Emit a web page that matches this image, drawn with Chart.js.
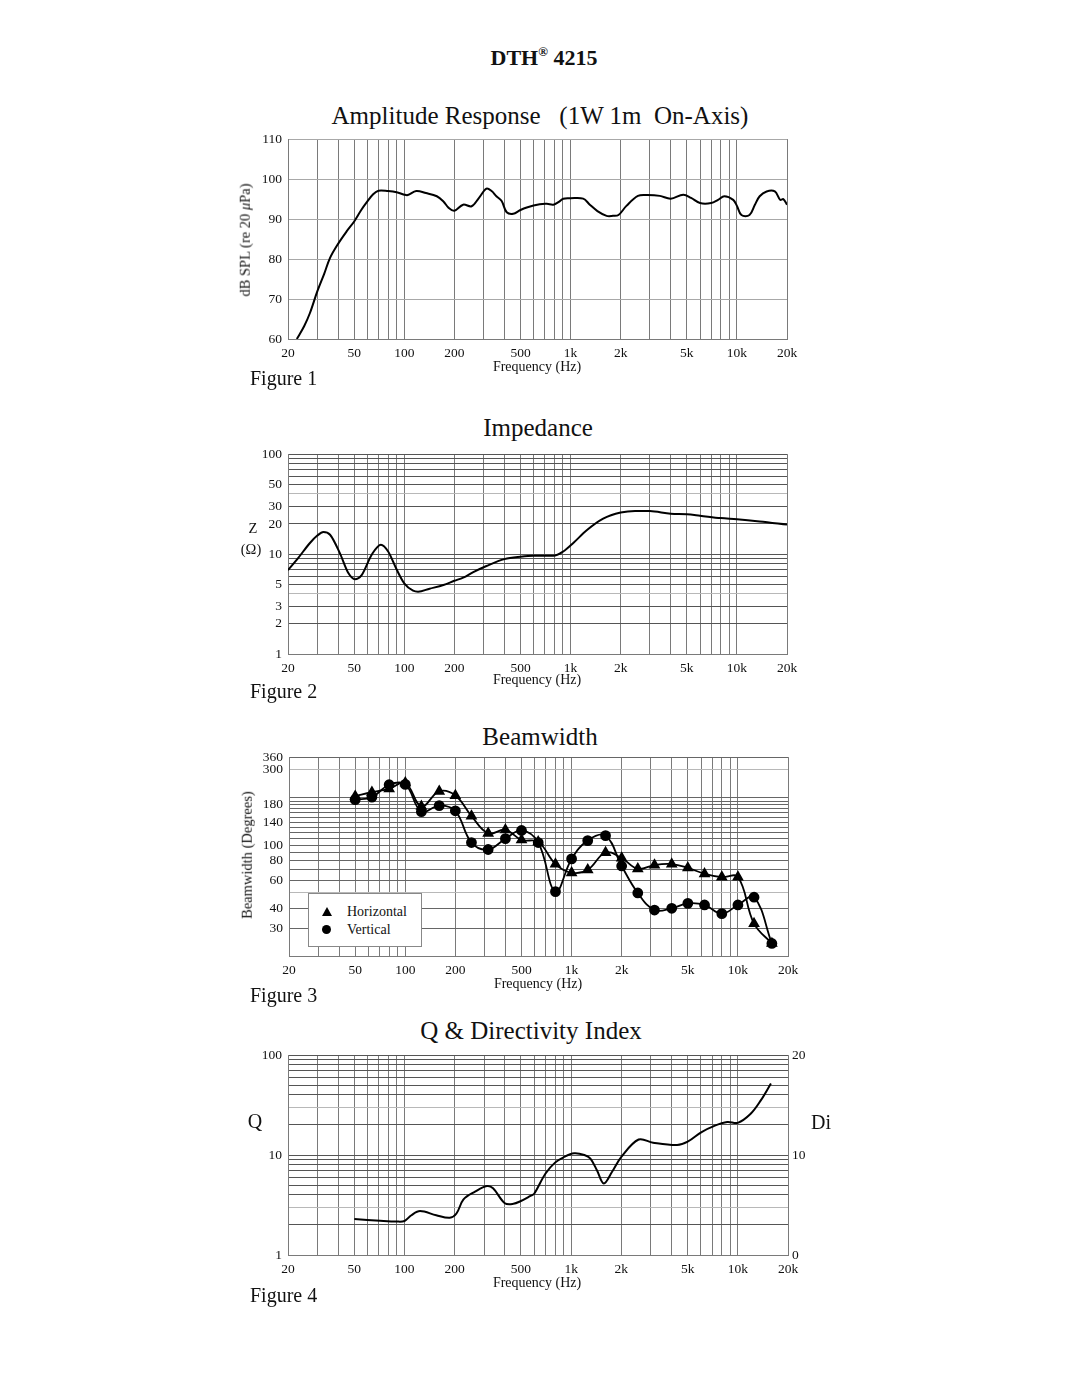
<!DOCTYPE html>
<html>
<head>
<meta charset="utf-8">
<script src="https://cdn.jsdelivr.net/npm/chart.js@4.4.1/dist/chart.umd.min.js"></script>
<style>
  body { margin: 0; background: #fff; font-family: "Liberation Serif", "Times New Roman", serif; color: #111; }
  #page { position: relative; width: 1080px; height: 1397px; overflow: hidden; }
  canvas { position: absolute; left: 0; }
  .t { position: absolute; white-space: pre; line-height: 1; }
  .c { transform: translate(-50%, -50%); }
  .l { transform: translate(0, -50%); }
  .r90 { transform: translate(-50%, -50%) rotate(-90deg); }
  .title { font-size: 25px; }
  .fig { font-size: 20px; }
  .fq { font-size: 14px; }
  .ax { font-size: 14.5px; }
  #legend { position: absolute; left: 308px; top: 893px; width: 112px; height: 52px; border: 1px solid #888; background: #fff; }
  .tri { position: absolute; width: 0; height: 0; border-left: 5px solid transparent; border-right: 5px solid transparent; border-bottom: 9px solid #000; }
  .dot { position: absolute; width: 9px; height: 9px; border-radius: 50%; background: #000; }
</style>
</head>
<body>
<div id="page">
  <div class="t c" style="left:544px; top:57px; font-size:22px; font-weight:bold;">DTH<sup style="font-size:13px;">®</sup> 4215</div>

  <div class="t c title" style="left:540px; top:115px;">Amplitude Response   (1W 1m  On-Axis)</div>
  <canvas id="c1" width="1080" height="240" style="top:125px;"></canvas>
  <div class="t r90 ax" style="left:245px; top:240px;">dB SPL (re 20 <i>μ</i>Pa)</div>
  <div class="t c fq" style="left:537px; top:367px;">Frequency (Hz)</div>
  <div class="t l fig" style="left:250px; top:378px;">Figure 1</div>

  <div class="t c title" style="left:538px; top:427px;">Impedance</div>
  <canvas id="c2" width="1080" height="240" style="top:440px;"></canvas>
  <div class="t c ax" style="left:253px; top:528px;">Z</div>
  <div class="t c ax" style="left:251px; top:549px;">(Ω)</div>
  <div class="t c fq" style="left:537px; top:680px;">Frequency (Hz)</div>
  <div class="t l fig" style="left:250px; top:691px;">Figure 2</div>

  <div class="t c title" style="left:540px; top:736px;">Beamwidth</div>
  <canvas id="c3" width="1080" height="240" style="top:743px;"></canvas>
  <div class="t r90 ax" style="left:247px; top:855px;">Beamwidth (Degrees)</div>
  <div id="legend"></div>
  <div class="tri" style="left:322px; top:907px;"></div>
  <div class="t l fq" style="left:347px; top:912px;">Horizontal</div>
  <div class="dot" style="left:322px; top:925px;"></div>
  <div class="t l fq" style="left:347px; top:930px;">Vertical</div>
  <div class="t c fq" style="left:538px; top:984px;">Frequency (Hz)</div>
  <div class="t l fig" style="left:250px; top:995px;">Figure 3</div>

  <div class="t c title" style="left:531px; top:1030px;">Q &amp; Directivity Index</div>
  <canvas id="c4" width="1080" height="240" style="top:1041px;"></canvas>
  <div class="t c" style="left:255px; top:1121px; font-size:20px;">Q</div>
  <div class="t c" style="left:821px; top:1122px; font-size:20px;">Di</div>
  <div class="t c fq" style="left:537px; top:1283px;">Frequency (Hz)</div>
  <div class="t l fig" style="left:250px; top:1295px;">Figure 4</div>
</div>

<script>
// frequency axis
const xGrid = [20, 30, 40, 50, 60, 70, 80, 90, 100, 200, 300, 400, 500, 600, 700, 800, 900,
  1000, 2000, 3000, 4000, 5000, 6000, 7000, 8000, 9000, 10000, 20000];
const xLabels = { 20: '20', 50: '50', 100: '100', 200: '200', 500: '500', 1000: '1k',
  2000: '2k', 5000: '5k', 10000: '10k', 20000: '20k' };

// Figure 1 - amplitude response
const splFreq = [22.6, 25, 27.1, 30, 33, 35.8, 40, 45, 50, 55, 60, 65, 70, 80, 90, 100, 105, 118, 135,
  157, 172, 185, 200, 226, 254, 280, 312, 335, 358, 385, 413, 452, 496, 545, 652, 720, 788, 850, 903,
  1000, 1190, 1305, 1450, 1646, 1800, 1940, 2166, 2540, 2900, 3440, 4000, 4754, 5300, 6000, 7000,
  7700, 8400, 9500, 10000, 10640, 11900, 12800, 13700, 15080, 16900, 18200, 19000, 20000];
const splDb = [60, 63.2, 66.5, 71.9, 76.3, 80.3, 83.8, 86.9, 89.4, 92.2, 94.4, 96.2, 97.1, 97.0, 96.7,
  96.1, 96.0, 97.0, 96.5, 95.7, 94.4, 92.8, 92.1, 93.6, 93.2, 95.2, 97.6, 97.0, 95.7, 94.5, 91.7, 91.3,
  92.2, 92.9, 93.7, 93.8, 93.6, 94.3, 95.1, 95.2, 95.1, 93.6, 92.0, 90.8, 90.8, 91.0, 93.3, 95.8, 96.0,
  95.8, 95.1, 96.1, 95.3, 94.0, 94.0, 94.8, 95.7, 94.8, 93.3, 91.0, 91.0, 93.5, 95.7, 96.9, 96.9, 94.8,
  95.0, 93.6];
const splTicks = [60, 70, 80, 90, 100, 110];

// Figure 2 - impedance
const impFreq = [20, 23, 27.1, 30, 32.6, 35.8, 41, 46, 50.5, 55.6, 63.6, 72.4, 80, 90, 100, 113, 121,
  142, 172, 200, 226, 260, 312, 400, 500, 600, 788, 903, 1042, 1250, 1570, 2000, 2440, 3000, 4000,
  5000, 6000, 8000, 10000, 13700, 20000];
const impOhm = [6.9, 9.1, 12.9, 15.3, 16.6, 15.6, 10.2, 6.5, 5.6, 6.2, 9.8, 12.4, 10.6, 7.0, 5.1, 4.3,
  4.2, 4.5, 4.9, 5.4, 5.8, 6.6, 7.6, 8.9, 9.4, 9.6, 9.6, 10.6, 13.0, 17.3, 22.6, 26.0, 27.0, 26.9, 25.3,
  25.0, 24.2, 22.9, 22.3, 21.2, 19.7];
const impGrid = [1, 2, 3, 4, 5, 6, 7, 8, 9, 10, 20, 30, 40, 50, 60, 70, 80, 90, 100];
const impLabels = [1, 2, 3, 5, 10, 20, 30, 50, 100];

// Figure 3 - beamwidth
const bwFreq = [50, 63, 80, 100, 125, 160, 200, 250, 315, 400, 500, 630, 800, 1000, 1250, 1600, 2000,
  2500, 3150, 4000, 5000, 6300, 8000, 10000, 12500, 16000];
const bwHoriz = [204, 216, 227, 248, 176, 219, 206, 153, 119, 125, 108, 105, 76, 67, 70, 90, 83, 71,
  75, 76, 72, 66, 63, 63, 32, 24];
const bwVert = [194, 201, 241, 242, 163, 178, 165, 104, 94, 110, 124, 104, 51, 82, 107, 115, 74, 50,
  39, 40, 43, 42, 37, 42, 47, 24];
const bwGrid = [20, 30, 40, 50, 60, 70, 80, 90, 100, 110, 120, 130, 140, 150, 160, 170, 180, 190, 200, 300, 360];
const bwLabels = [30, 40, 60, 80, 100, 140, 180, 300, 360];

// Figure 4 - Q
const qFreq = [50, 71.4, 90, 100, 110, 124, 155, 187, 205, 226, 265, 312, 340, 400, 450, 496, 570, 600,
  700, 800, 900, 1042, 1200, 1305, 1430, 1570, 1760, 2000, 2540, 3100, 4320, 5000, 6060, 7180, 8640,
  10000, 11900, 13700, 15800];
const qVal = [2.29, 2.2, 2.16, 2.19, 2.5, 2.75, 2.5, 2.36, 2.6, 3.6, 4.3, 4.9, 4.65, 3.3, 3.25, 3.45,
  3.9, 4.1, 6.5, 8.4, 9.5, 10.4, 10.0, 9.2, 7.0, 5.2, 6.8, 9.6, 14.3, 13.3, 12.6, 13.6, 17.0, 19.5,
  21.4, 21.0, 25.7, 35.0, 52.0];
const qLabels = [1, 10, 100];
const diTicks = [0, 10, 20];

const serif = '"Liberation Serif", "Times New Roman", serif';
const tickFont = { family: serif, size: 13.5 };

function pts(xs, ys) {
  return xs.map((x, i) => ({ x: x, y: ys[i] }));
}

function freqAxis() {
  return {
    type: 'logarithmic',
    min: 20,
    max: 20000,
    afterBuildTicks: s => { s.ticks = xGrid.map(v => ({ value: v })); },
    afterFit: s => { s.height = 24; },
    ticks: {
      autoSkip: false, maxRotation: 0, padding: 6, color: '#111', font: tickFont,
      callback: v => xLabels[v] || ''
    },
    grid: { color: '#7a7a7a', drawTicks: false },
    border: { color: '#7a7a7a' }
  };
}

function logY(min, max, grid, labels, colorFn) {
  return {
    type: 'logarithmic',
    min: min,
    max: max,
    afterBuildTicks: s => { s.ticks = grid.map(v => ({ value: v })); },
    afterFit: s => { s.width = 40; },
    ticks: {
      autoSkip: false, padding: 6, color: '#111', font: tickFont,
      callback: v => labels.includes(v) ? String(v) : ''
    },
    grid: { color: colorFn, drawTicks: false },
    border: { color: '#7a7a7a' }
  };
}

function baseOptions(scales, pad) {
  return {
    responsive: false,
    animation: false,
    layout: { padding: pad },
    plugins: { legend: { display: false }, tooltip: { enabled: false } },
    scales: scales
  };
}

function curve(data, smooth) {
  const ds = { data: data, borderColor: '#000', borderWidth: 2, pointRadius: 0, fill: false };
  if (smooth) ds.tension = smooth;
  else ds.cubicInterpolationMode = 'monotone';
  return ds;
}

// Figure 1
new Chart(document.getElementById('c1'), {
  type: 'line',
  data: { datasets: [curve(pts(splFreq, splDb), 0.35)] },
  options: baseOptions({
    x: freqAxis(),
    y: {
      type: 'linear', min: 60, max: 110,
      afterBuildTicks: s => { s.ticks = splTicks.map(v => ({ value: v })); },
      afterFit: s => { s.width = 40; },
      ticks: { padding: 6, color: '#111', font: tickFont },
      grid: { color: '#a8a8a8', drawTicks: false },
      border: { color: '#7a7a7a' }
    }
  }, { left: 248, right: 293, top: 14, bottom: 2 })
});

// Figure 2
new Chart(document.getElementById('c2'), {
  type: 'line',
  data: { datasets: [curve(pts(impFreq, impOhm))] },
  options: baseOptions({
    x: freqAxis(),
    y: logY(1, 100, impGrid, impLabels, c => (c.tick && (c.tick.value === 4 || c.tick.value === 40)) ? '#b8b8b8' : '#555')
  }, { left: 248, right: 293, top: 14, bottom: 2 })
});

// Figure 3
new Chart(document.getElementById('c3'), {
  type: 'line',
  data: {
    datasets: [
      {
        label: 'Horizontal', data: pts(bwFreq, bwHoriz), borderColor: '#000', borderWidth: 1.8,
        pointStyle: 'triangle', pointRadius: 5, pointBackgroundColor: '#000', pointBorderColor: '#000',
        tension: 0.4, fill: false
      },
      {
        label: 'Vertical', data: pts(bwFreq, bwVert), borderColor: '#000', borderWidth: 1.8,
        pointStyle: 'circle', pointRadius: 4.5, pointBackgroundColor: '#000', pointBorderColor: '#000',
        tension: 0.4, fill: false
      }
    ]
  },
  options: baseOptions({
    x: freqAxis(),
    y: logY(20, 360, bwGrid, bwLabels, c => (c.tick && (c.tick.value === 50 || c.tick.value === 300)) ? '#b8b8b8' : '#666')
  }, { left: 249, right: 292, top: 14, bottom: 3 })
});

// Figure 4
new Chart(document.getElementById('c4'), {
  type: 'line',
  data: { datasets: [curve(pts(qFreq, qVal), 0.35)] },
  options: baseOptions({
    x: freqAxis(),
    y: logY(1, 100, impGrid, qLabels, c => (c.tick && (c.tick.value === 3 || c.tick.value === 30)) ? '#b8b8b8' : '#555'),
    yDi: {
      axis: 'y', type: 'linear', position: 'right', min: 0, max: 20,
      afterBuildTicks: s => { s.ticks = diTicks.map(v => ({ value: v })); },
      afterFit: s => { s.width = 30; },
      ticks: { padding: 4, color: '#111', font: tickFont },
      grid: { display: false, drawTicks: false },
      border: { display: false }
    }
  }, { left: 248, right: 262, top: 14, bottom: 2 })
});
</script>
</body>
</html>
